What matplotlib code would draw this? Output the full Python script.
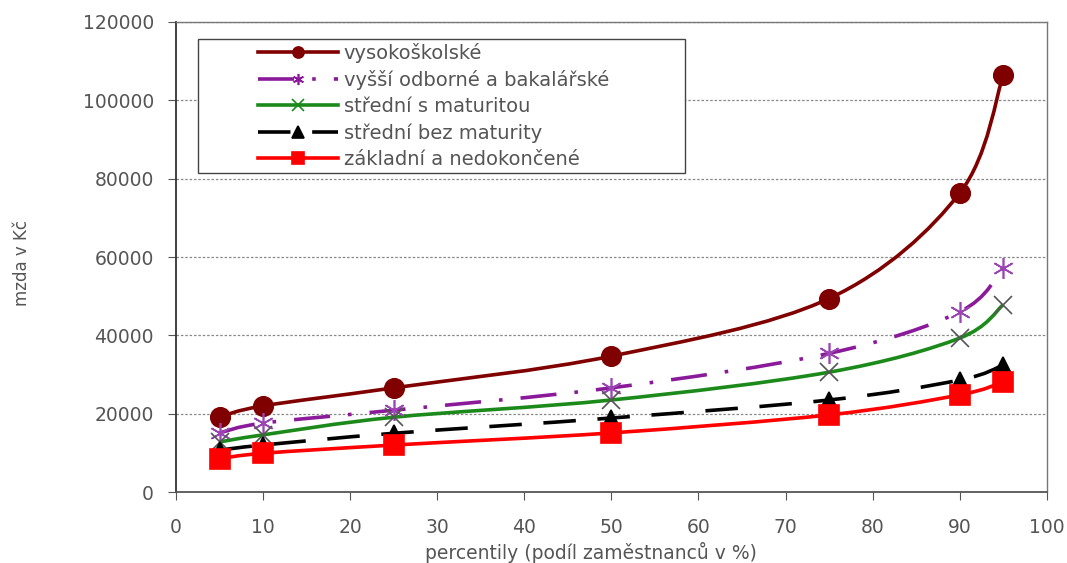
import numpy as np
import matplotlib
matplotlib.use("Agg")
import matplotlib.pyplot as plt
from matplotlib.path import Path
from matplotlib.patches import PathPatch
from matplotlib.lines import Line2D
from matplotlib.legend_handler import HandlerLine2D

plt.rcParams['font.family'] = ['DejaVu Sans']

percentiles = [5, 10, 25, 50, 75, 90, 95]
series_names = ["vysokoškolské", "vyšší odborné a bakalářské", "střední s maturitou",
                "střední bez maturity", "základní a nedokončené"]
vysokoskolske = [19200, 22000, 26600, 34700, 49400, 76300, 106400]
vyssi_odborne = [15100, 17600, 20900, 26600, 35400, 46000, 57200]
stredni_s_mat = [12800, 14600, 19100, 23500, 30600, 39300, 47800]
stredni_bez_mat = [10700, 12000, 15000, 18900, 23500, 28600, 32400]
zakladni = [8500, 9900, 12000, 15100, 19700, 24800, 28100]

values = [vysokoskolske, vyssi_odborne, stredni_s_mat, stredni_bez_mat, zakladni]
colors = ["#800000", "#8B1A9B", "#1B8A1B", "#000000", "#FF0000"]
markers = ["o", (6, 2, 0), "x", "^", "s"]
marker_colors = ["#800000", "#9B45B5", "#555555", "#000000", "#FF0000"]
msizes = [14, 15, 13, 12, 15]
linestyles = ["-", (0, (10, 5, 1, 5)), "-", (0, (9, 6)), "-"]


def smooth_path(x, y):
    x = np.asarray(x, float)
    y = np.asarray(y, float)
    n = len(x)
    verts = [(x[0], y[0])]
    codes = [Path.MOVETO]
    for i in range(n - 1):
        p0 = np.array([x[max(i - 1, 0)], y[max(i - 1, 0)]])
        p1 = np.array([x[i], y[i]])
        p2 = np.array([x[i + 1], y[i + 1]])
        p3 = np.array([x[min(i + 2, n - 1)], y[min(i + 2, n - 1)]])
        c1 = p1 + (p2 - p0) / 6.0
        c2 = p2 - (p3 - p1) / 6.0
        verts += [tuple(c1), tuple(c2), tuple(p2)]
        codes += [Path.CURVE4] * 3
    return Path(verts, codes)


fig = plt.figure(figsize=(10.67, 5.63), dpi=100)
ax = fig.add_axes([0.165, 0.126, 0.816, 0.835])

handles = []
for name, vals, c, m, mc, ms, ls in zip(series_names, values, colors, markers,
                                         marker_colors, msizes, linestyles):
    patch = PathPatch(smooth_path(percentiles, vals), facecolor="none", edgecolor=c,
                      lw=2.6, linestyle=ls, zorder=3)
    ax.add_patch(patch)
    filled = m not in ("x",) and not isinstance(m, tuple)
    ax.plot(percentiles, vals, ls="none", marker=m, ms=ms,
            markerfacecolor=mc if filled else "none", markeredgecolor=mc,
            markeredgewidth=1.2, zorder=4)
    handles.append(Line2D([], [], color=c, lw=2.6, linestyle=ls, marker=m, ms=8,
                          markerfacecolor=mc if filled else "none", markeredgecolor=c,
                          markeredgewidth=1.2))

ax.set_xlim(0, 100)
ax.set_ylim(0, 120000)
ax.set_xticks(range(0, 101, 10))
ax.set_yticks(range(0, 120001, 20000))
ax.yaxis.grid(True, linestyle=(0, (2, 1.5)), color="#888888", lw=0.9)
ax.set_axisbelow(True)
for s in ax.spines.values():
    s.set_color("#777777")
    s.set_linewidth(1.0)
ax.spines['left'].set_color("#333333")
ax.spines['left'].set_linewidth(1.3)
ax.spines['bottom'].set_color("#555555")
ax.spines['bottom'].set_linewidth(1.3)
ax.tick_params(axis='both', direction='out', length=6, color="#555555",
               labelsize=13.5, labelcolor="#555555")
ax.tick_params(axis='y', pad=10)
ax.tick_params(axis='x', pad=13)

fig.text(0.554, 0.018, "percentily (podíl zaměstnanců v %)", ha="center", va="center",
         fontsize=13.5, color="#555555")
fig.text(0.021, 0.533, "mzda v Kč", ha="center", va="center", rotation=90,
         fontsize=12, color="#555555")

hmap = {h: HandlerLine2D(xpad=2.9) for h in handles}
leg = ax.legend(handles, series_names, loc="upper left",
                bbox_to_anchor=(0.025, 0.963, 0.56, 0.0), mode="expand",
                handlelength=7.0, fontsize=14, handler_map=hmap,
                frameon=True, fancybox=False, framealpha=1.0, borderpad=0.2,
                labelspacing=0.36, handletextpad=0.3, borderaxespad=0)
leg.get_frame().set_edgecolor("#444444")
leg.get_frame().set_linewidth(1.0)
for t in leg.get_texts():
    t.set_color("#555555")

fig.savefig("out.png", dpi=100)
